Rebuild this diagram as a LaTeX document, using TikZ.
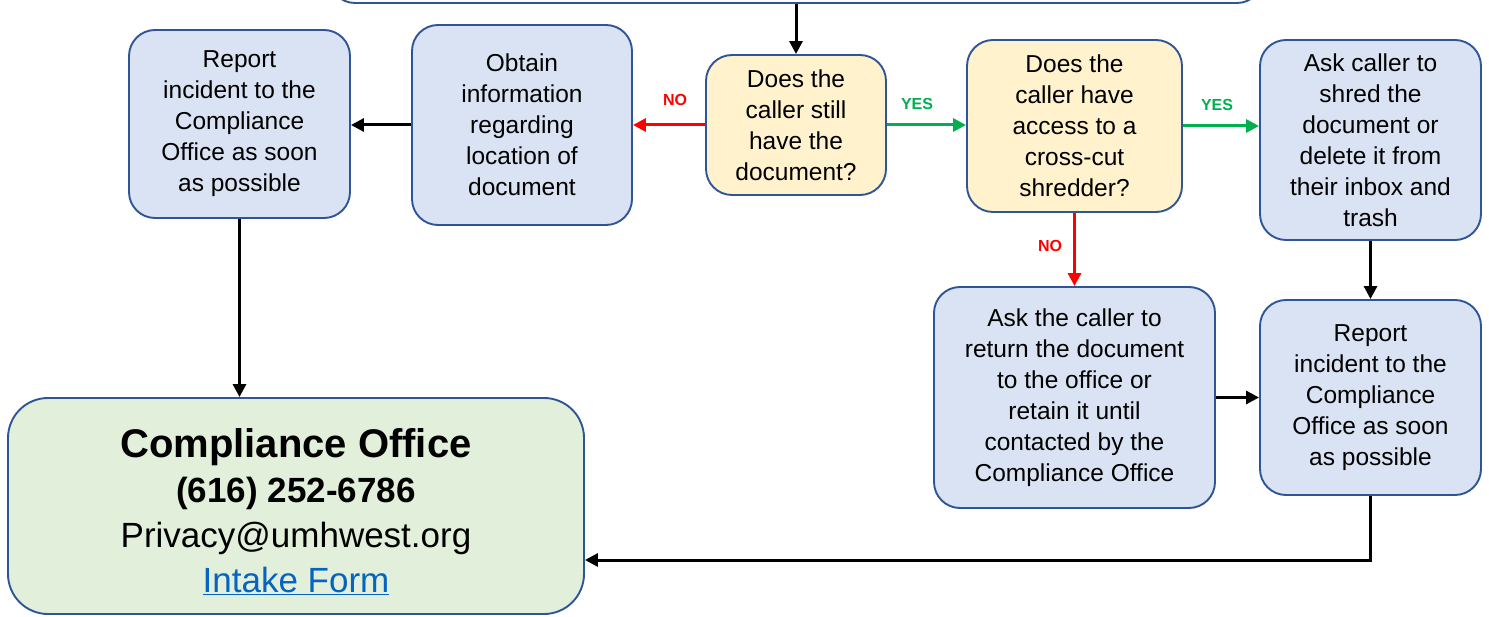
\documentclass[tikz,border=0pt]{standalone}
\usepackage{fontspec}
\setmainfont{Liberation Sans}
\usetikzlibrary{arrows.meta}
\definecolor{boxblue}{HTML}{DAE3F3}
\definecolor{edgeblue}{HTML}{2F5597}
\definecolor{askcream}{HTML}{FFF2CC}
\definecolor{officegreen}{HTML}{E2EFDA}
\definecolor{yesgreen}{HTML}{00B050}
\definecolor{linkblue}{HTML}{0563C1}

\begin{document}
\begin{tikzpicture}[x=1pt,y=-1pt,
	stepbox/.style={draw=edgeblue, line width=1.9pt, fill=boxblue, rounded corners=26pt,
		align=center, inner sep=0pt, font=\fontsize{24.5}{31}\selectfont},
	askbox/.style={stepbox, fill=askcream},
	arr/.style={line width=3pt, -{Triangle[length=13pt,width=13pt]}},
	tag/.style={font=\bfseries\fontsize{16}{18}\selectfont}]
		\useasboundingbox (0,0) rectangle (1489,617);
		\clip (0,0) rectangle (1489,617);
		
		% boxes
		\node[stepbox, fill=white, minimum width=934pt, minimum height=83pt] (intro) at (796,-38.5) {};
		\node[askbox, minimum width=180pt, minimum height=140pt] (still) at (796,125)
			{Does the\\caller still\\have the\\document?};
		\node[stepbox, minimum width=220pt, minimum height=200pt] (obtain) at (522,125)
			{Obtain\\information\\regarding\\location of\\document};
		\node[stepbox, minimum width=221pt, minimum height=188pt] (reportL) at (239.5,124)
			{Report\\incident to the\\Compliance\\Office as soon\\as possible};
		\node[askbox, minimum width=215pt, minimum height=172pt] (shredder) at (1074.5,126)
			{Does the\\caller have\\access to a\\cross-cut\\shredder?};
		\node[stepbox, minimum width=221pt, minimum height=200pt] (shred) at (1370.5,140)
			{Ask caller to\\shred the\\document or\\delete it from\\their inbox and\\trash};
		\node[stepbox, minimum width=281pt, minimum height=221pt] (return) at (1074.5,397.5)
			{Ask the caller to\\return the document\\to the office or\\retain it until\\contacted by the\\Compliance Office};
		\node[stepbox, minimum width=221pt, minimum height=195pt] (reportR) at (1370.5,397.5)
			{Report\\incident to the\\Compliance\\Office as soon\\as possible};
		\node[stepbox, fill=officegreen, rounded corners=40pt, minimum width=576pt, minimum height=216pt,
			font=\fontsize{35}{45}\selectfont] (office) at (296,506)
			{\rule{0pt}{41pt}{\fontsize{40}{45}\selectfont\bfseries Compliance Office}\\
			{\bfseries (616) 252-6786}\\
			Privacy@umhwest.org\\
			{\color{linkblue}\underline{Intake Form}}};
		
		% arrows
		\draw[arr] (intro.south) -- (still.north);
		\draw[arr, red] (still.west) -- (obtain.east);
		\draw[arr] (obtain.west) -- (obtain.west -| reportL.east);
		\draw[arr] (reportL.south) -- (reportL.south |- office.north);
		\draw[arr, yesgreen] (still.east) -- (still.east -| shredder.west);
		\draw[arr, yesgreen] (shredder.east) -- (shredder.east -| shred.west);
		\draw[arr, red] (shredder.south) -- (return.north);
		\draw[arr] (shred.south) -- (reportR.north);
		\draw[arr] (return.east) -- (reportR.west);
		\draw[arr] (reportR.south) |- ([yshift=-54pt]office.east);
		
		\node[tag, text=red] (noA) at (675,100) {NO};
		\node[tag, text=yesgreen] (yesA) at (917,104) {YES};
		\node[tag, text=yesgreen] (yesB) at (1217,105) {YES};
		\node[tag, text=red] (noB) at (1050,246) {NO};
	\end{tikzpicture}
\end{document}
